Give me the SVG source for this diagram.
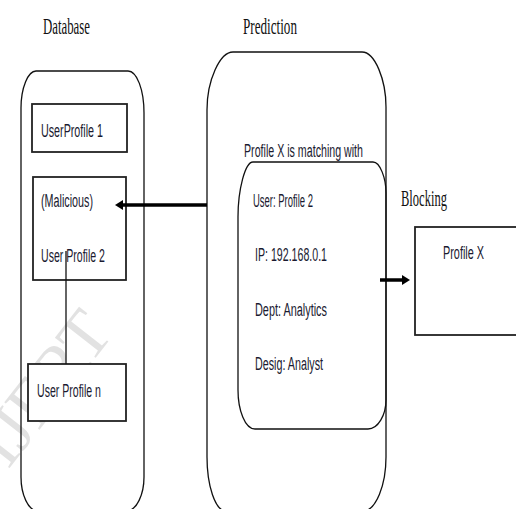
<svg xmlns="http://www.w3.org/2000/svg" width="516" height="509" viewBox="0 0 516 509">
  <style>
    .container { fill: none; stroke: #111; stroke-width: 1.3; }
    .box { fill: #fff; stroke: #222; stroke-width: 1.8; }
    .title { font-family: "Liberation Serif", "Times New Roman", serif; font-size: 23px; fill: #111; }
    .label { font-family: "Liberation Sans", Arial, sans-serif; font-size: 18px; fill: #1a1a30; }
    .arrow { stroke: #000; stroke-width: 3.5; fill: none; }
    .link { stroke: #111; stroke-width: 1.3; fill: none; }
    .mark { font-family: "Liberation Serif", "Times New Roman", serif; font-size: 68px; fill: #e2e2e2; }
  </style>
  <defs>
    <marker id="head" viewBox="0 0 8 10" refX="0" refY="5" markerWidth="8" markerHeight="10" markerUnits="userSpaceOnUse" orient="auto">
      <path d="M0,0 L8,5 L0,10 Z" fill="#000"/>
    </marker>
  </defs>

  <rect width="516" height="509" fill="#fff"/>

  <!-- faint background stamp -->
  <text class="mark" transform="translate(8,470) rotate(-52)">IJERT</text>

  <!-- Database column -->
  <g id="database">
    <text class="title" x="43" y="34" textLength="47" lengthAdjust="spacingAndGlyphs">Database</text>
    <path class="container" d="M36,71 H128 C137,71 144,90 144,113 V477 C144,494 137,511 126,511 H38 C28,511 21,494 21,477 V108 C21,88 28,71 36,71 Z"/>
  </g>

  <g id="profile1">
    <rect class="box" x="32" y="104" width="95" height="48"/>
    <text class="label" x="41" y="137" textLength="62" lengthAdjust="spacingAndGlyphs">UserProfile 1</text>
  </g>

  <g id="profile2">
    <rect class="box" x="33" y="177" width="93" height="103"/>
    <text class="label" x="41" y="207" textLength="52" lengthAdjust="spacingAndGlyphs">(Malicious)</text>
    <text class="label" x="41" y="262" textLength="64" lengthAdjust="spacingAndGlyphs">User Profile 2</text>
  </g>

  <g id="profileN">
    <rect class="box" x="28" y="364" width="98" height="57"/>
    <text class="label" x="37" y="397" textLength="64" lengthAdjust="spacingAndGlyphs">User Profile n</text>
  </g>

  <!-- Prediction column -->
  <g id="prediction">
    <text class="title" x="243" y="34" textLength="54" lengthAdjust="spacingAndGlyphs">Prediction</text>
    <path class="container" d="M233,52 H362 C375,52 386,80 386,107 V457 C386,485 376,511 363,511 H226 C215,511 207,485 207,457 V110 C207,80 220,52 233,52 Z"/>
  </g>

  <g id="match">
    <text class="label" x="244" y="157" textLength="119" lengthAdjust="spacingAndGlyphs">Profile X is matching with</text>
    <path class="container" d="M253,162 H373 C380,162 386,178 386,193 V400 C386,415 378,429 368,429 H255 C245,429 238,410 238,390 V217 C238,190 245,162 253,162 Z"/>
    <text class="label" x="253" y="207" textLength="60" lengthAdjust="spacingAndGlyphs">User:  Profile 2</text>
    <text class="label" x="255" y="261" textLength="72" lengthAdjust="spacingAndGlyphs">IP: 192.168.0.1</text>
    <text class="label" x="255" y="316" textLength="72" lengthAdjust="spacingAndGlyphs">Dept: Analytics</text>
    <text class="label" x="255" y="370" textLength="68" lengthAdjust="spacingAndGlyphs">Desig: Analyst</text>
  </g>

  <!-- Blocking column -->
  <g id="blocking">
    <text class="title" x="401" y="206" textLength="46" lengthAdjust="spacingAndGlyphs">Blocking</text>
    <rect class="box" x="415" y="227" width="110" height="108"/>
    <text class="label" x="443" y="259" textLength="41" lengthAdjust="spacingAndGlyphs">Profile X</text>
  </g>

  <!-- connectors -->
  <g id="connectors">
    <line class="link" x1="66" y1="251" x2="66" y2="364"/>
    <line class="arrow" x1="207" y1="205" x2="123" y2="205" marker-end="url(#head)"/>
    <line class="arrow" x1="380" y1="280" x2="402" y2="280" marker-end="url(#head)"/>
  </g>
</svg>
